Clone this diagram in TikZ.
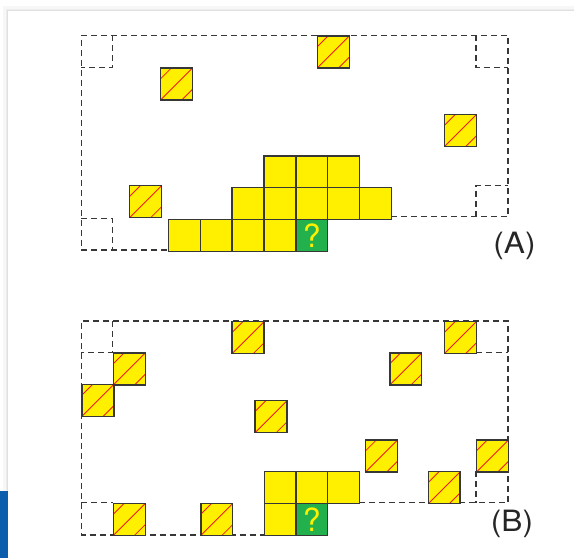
\documentclass[tikz,border=0pt]{standalone}
\usepackage{fontspec}
\setmainfont{TeX Gyre Heros}
\usepackage{tikz}
\usetikzlibrary{calc}
\usepackage{xcolor}
\definecolor{cellyellow}{RGB}{255,240,0}
\definecolor{cellgreen}{RGB}{34,177,76}
\definecolor{hatchred}{RGB}{237,28,36}
\definecolor{edgegray}{RGB}{55,55,55}
\definecolor{sideblue}{RGB}{12,94,172}

\begin{document}
\begin{tikzpicture}[
  x=0.75pt, y=-0.75pt,
  cell/.style={draw=edgegray, line width=1.1pt, fill=cellyellow, minimum size=23.85pt, inner sep=0pt, anchor=north west},
  hatched/.style={cell, path picture={
      \draw[hatchred, line width=0.65pt] (path picture bounding box.south west) -- (path picture bounding box.north east);
      \draw[hatchred, line width=0.65pt] (path picture bounding box.north west) ++(0pt,-7.95pt) -- ++(7.95pt,7.95pt);
      \draw[hatchred, line width=0.65pt] (path picture bounding box.south east) ++(-7.95pt,0pt) -- ++(7.95pt,7.95pt);
  }},
  goal/.style={cell, fill=cellgreen, text=cellyellow, font=\fontsize{24}{24}\selectfont},
  border/.style={draw=edgegray, line width=1pt, dash pattern=on 4.5pt off 3pt},
  tag/.style={font=\fontsize{22}{22}\selectfont, text=black!85, xscale=1.08}
]
  \useasboundingbox (0,0) rectangle (574,558);

  % Page card with shadow
  \fill[white] (0,0) rectangle (574,558);
  \fill[black!3] (3,6) rectangle (574,558);
  \fill[black!7] (5.5,8.5) rectangle (574,558);
  \fill[black!12] (7.3,9.8) rectangle (574,558);
  \fill[white] (8.3,10.7) rectangle (574,558);
  \fill[sideblue] (0,490.7) rectangle (8.3,558);

  % Region A outline
  \draw[border] (391,216.7) -- (508.1,216.7) -- (508.1,35.3) -- (81.3,35.3) -- (81.3,250) -- (167.7,250);
  \draw[border] (112.7,35.3) -- (112.7,67.3) -- (81.3,67.3);
  \draw[border] (475.9,35.3) -- (475.9,67.3) -- (508.1,67.3);
  \draw[border] (475.9,216.7) -- (475.9,185.3) -- (508.1,185.3);
  \draw[border] (81.3,218.3) -- (112.7,218.3) -- (112.7,250);

  % Blocked cells in A
  \node[hatched] (a1) at (316.7,35.3) {};
  \node[hatched] (a2) at (160,67.3) {};
  \node[hatched] (a3) at (443.7,114) {};
  \node[hatched] (a4) at (128.9,185) {};

  % Filled cells in A
  \node[cell] (ar1) at (263.2,155.3) {};
  \node[cell] (ar2) at (295.1,155.3) {};
  \node[cell] (ar3) at (326.9,155.3) {};
  \node[cell] (am1) at (231.4,187) {};
  \node[cell] (am2) at (263.2,187) {};
  \node[cell] (am3) at (295.1,187) {};
  \node[cell] (am4) at (326.9,187) {};
  \node[cell] (am5) at (358.8,187) {};
  \node[cell] (ab1) at (167.7,218.7) {};
  \node[cell] (ab2) at (199.5,218.7) {};
  \node[cell] (ab3) at (231.4,218.7) {};
  \node[cell] (ab4) at (263.2,218.7) {};
  \node[goal] (aq) at (295.1,218.7) {?};

  \node[tag] (labA) at (514.5,245.5) {(A)};

  % Region B outline
  \draw[border] (358.8,502.7) -- (508.1,502.7) -- (508.1,321) -- (81.3,321) -- (81.3,535) -- (263.6,535);
  \draw[border] (112.7,321) -- (112.7,352.3) -- (81.3,352.3);
  \draw[border] (475.9,352.3) -- (508.1,352.3);
  \draw[border] (475.9,471) -- (475.9,502.7);
  \draw[border] (81.3,502.7) -- (112.7,502.7);

  % Blocked cells in B
  \node[hatched] (b1) at (231.4,321) {};
  \node[hatched] (b2) at (443.7,321) {};
  \node[hatched] (b3) at (112.7,352.3) {};
  \node[hatched] (b4) at (389.1,352.3) {};
  \node[hatched] (b5) at (81.3,383.7) {};
  \node[hatched] (b6) at (254.4,400) {};
  \node[hatched] (b7) at (365,439.3) {};
  \node[hatched] (b8) at (475.9,439.3) {};
  \node[hatched] (b9) at (427.6,471) {};
  \node[hatched] (b10) at (112.7,502.7) {};
  \node[hatched] (b11) at (200.2,502.7) {};

  % Filled cells in B
  \node[cell] (bm1) at (263.6,471) {};
  \node[cell] (bm2) at (295.1,471) {};
  \node[cell] (bm3) at (326.9,471) {};
  \node[cell] (bb1) at (263.6,502.7) {};
  \node[goal] (bq) at (295.1,502.7) {?};

  \node[tag] (labB) at (512,524) {(B)};
\end{tikzpicture}
\end{document}
